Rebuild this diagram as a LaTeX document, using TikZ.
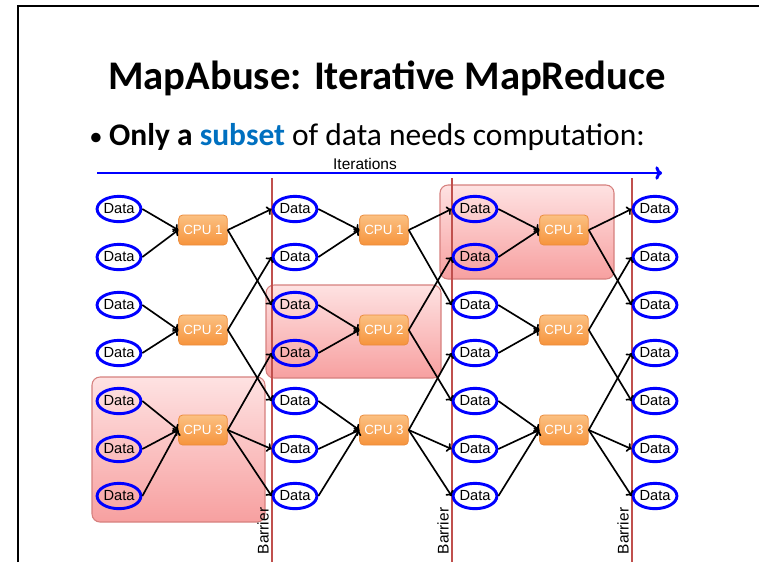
\documentclass[tikz,border=0pt]{standalone}
\usepackage{fontspec}
\setmainfont{Carlito}
\newfontfamily\diafont{Liberation Sans}
\usetikzlibrary{shapes.geometric,arrows.meta}

\definecolor{subsetblue}{RGB}{0,112,192}
\definecolor{barrierred}{RGB}{192,80,77}
\definecolor{cputop}{RGB}{251,192,130}
\definecolor{cpubot}{RGB}{246,148,60}
\definecolor{cpuedge}{RGB}{236,140,60}
\definecolor{boxtop}{RGB}{254,226,226}
\definecolor{boxbot}{RGB}{247,160,160}
\definecolor{boxedge}{RGB}{214,128,126}

\tikzset{
  data/.style={ellipse, draw=blue, line width=2.2pt, inner sep=0pt,
    minimum width=32.5pt, minimum height=19pt,
    font=\diafont\fontsize{11}{11}\selectfont},
  cpu/.style={rectangle, rounded corners=3pt, draw=cpuedge, line width=0.6pt,
    top color=cputop, bottom color=cpubot, text=white, inner sep=0pt,
    minimum width=36.5pt, minimum height=22.5pt,
    font=\diafont\fontsize{10}{10}\selectfont},
  work/.style={rounded corners=6pt, draw=boxedge, line width=0.8pt,
    top color=boxtop, bottom color=boxbot},
  link/.style={-{To[length=3.5pt,width=7pt]}, line width=1.25pt},
  barrier/.style={draw=barrierred, line width=1.6pt},
  small/.style={font=\diafont\fontsize{11.6}{12}\selectfont, inner sep=0pt}
}

\begin{document}
\begin{tikzpicture}[x=0.75pt,y=-0.75pt]
\useasboundingbox (0,0) rectangle (759,562);

% slide frame
\draw[line width=2pt] (18,562) -- (18,6) -- (759,6);

\node[font=\bfseries\fontsize{30.5}{36}\selectfont, anchor=base] (title) at (387,89) {MapAbuse: Iterative MapReduce};
\node[font=\fontsize{23.6}{28}\selectfont, anchor=base west, inner sep=0pt] (bullet) at (89,145)
  {{\fontsize{20}{20}\selectfont\textbullet}\hspace{5pt}\textbf{Only a \textcolor{subsetblue}{subset}} of data needs computation:};

% iterations
\node[small] (iterlabel) at (365,164) {Iterations};
\coordinate (iterstart) at (97,173);
\coordinate (iterend) at (662,173);
\draw[-{To[length=5pt,width=10pt]}, blue, line width=2.2pt] (iterstart) -- (iterend);

% active parts
\draw[work] (92,377) rectangle (265,522);
\draw[work] (266,285) rectangle (441,378);
\draw[work] (440,185) rectangle (614,279);

% barriers
\foreach \bx/\bn in {272/1,452/2,632/3} {
  \draw[barrier] (\bx,178) -- (\bx,562);
  \node[small, rotate=90] (barrier\bn) at (\bx-9,531) {Barrier};
}

% data and cpus
\foreach \c/\x in {1/119,2/295,3/475,4/655}
  \foreach \r/\y in {1/209,2/257,3/305,4/353,5/401,6/449,7/496}
    \node[data] (d\c\r) at (\x,\y) {Data};

\foreach \c/\x in {1/203,2/384,3/564}
  \foreach \k/\y in {1/230,2/330,3/430}
    \node[cpu] (cpu\c\k) at (\x,\y) {CPU \k};

% links
\foreach \c [count=\n from 2] in {1,2,3} {
  \foreach \r/\k in {1/1,2/1,3/2,4/2,5/3,6/3,7/3}
    \draw[link] (d\c\r.east) -- (cpu\c\k.west);
  \foreach \k/\r in {1/1,1/3,2/2,2/5,3/4,3/6,3/7}
    \draw[link] (cpu\c\k.east) -- (d\n\r.west);
}
\end{tikzpicture}
\end{document}
